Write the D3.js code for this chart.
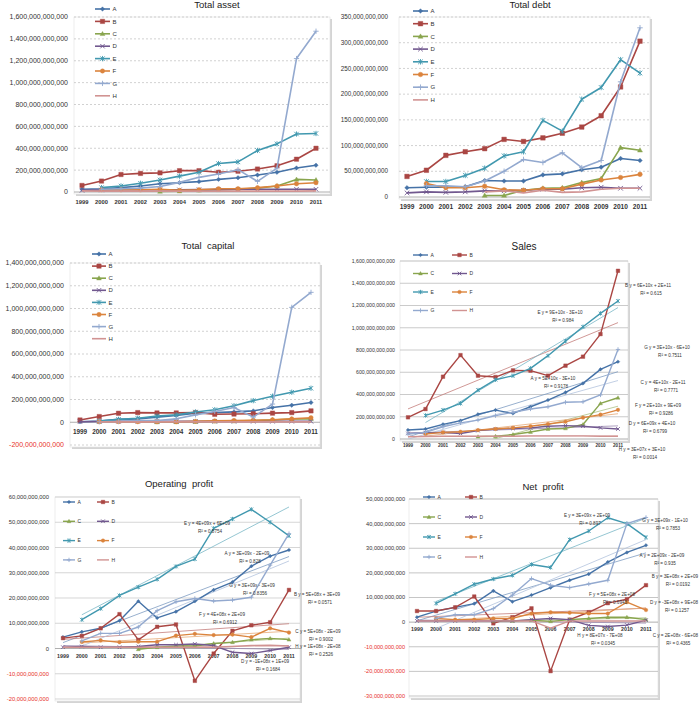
<!DOCTYPE html>
<html><head><meta charset="utf-8">
<script src="https://cdn.jsdelivr.net/npm/d3@7"></script>
<style>
body{margin:0;background:#fff}
svg{font-family:"Liberation Sans",Arial,sans-serif}
</style></head><body>
<svg width="699" height="706"></svg>
<script>
const YEARS = ['1999','2000','2001','2002','2003','2004','2005','2006','2007','2008','2009','2010','2011'];
const SERIES = ['A','B','C','D','E','F','G','H'];
const COLORS = ['#4572A7','#AA4643','#89A54E','#71588F','#4198AF','#DB843D','#93A9CF','#D19392'];
const MARKERS = ['diamond','square','triangle','x','star','circle','plus','none'];

// values in billions
const TOTAL_ASSET = {
  A: [25,30,40,55,75,85,95,115,130,155,180,220,245],
  B: [60,100,160,170,175,195,195,180,190,210,240,300,400],
  C: [null,null,null,null,5,8,15,20,25,35,55,115,110],
  D: [15,18,20,20,20,20,22,22,25,25,25,25,25],
  E: [null,40,55,80,110,145,180,260,275,380,440,530,535],
  F: [null,20,20,20,25,15,20,30,30,40,55,75,85],
  G: [null,25,30,35,50,88,134,164,204,97,219,1220,1470],
  H: [10,8,8,8,8,8,8,8,8,8,8,8,10]
};
const TOTAL_DEBT = {
  A: [18,19,19,20,32,31,31,43,45,53,58,75,71],
  B: [40,52,81,88,94,112,108,115,124,136,158,214,303],
  C: [null,null,null,null,3,3,13,17,18,28,36,96,91],
  D: [8,10,9,10,12,12,13,15,15,18,19,17,17],
  E: [null,30,30,42,56,80,88,149,128,190,213,267,241],
  F: [null,26,18,18,21,14,13,16,16,25,33,38,44],
  G: [null,22,22,20,31,50,73,67,86,57,71,224,329],
  H: [null,null,null,null,10,12,8,13,9,10,15,17,17]
};
const TOTAL_CAPITAL = {
  A: [5,10,25,30,45,60,80,85,91,100,129,150,173],
  B: [20,50,79,85,82,82,85,70,72,75,80,85,100],
  C: [null,null,null,null,2,3,5,8,10,15,20,28,30],
  D: [5,6,8,8,8,8,8,8,8,8,8,8,8],
  E: [null,10,25,35,55,65,90,110,145,190,229,264,299],
  F: [null,5,5,5,5,5,8,12,15,18,22,30,40],
  G: [null,5,8,15,15,30,65,95,130,45,160,1010,1142],
  H: [null,3,3,3,3,3,3,3,3,3,3,3,3]
};
const SALES = {
  A: [81,90,132,165,222,260,230,290,350,419,500,626,695],
  B: [195,269,560,754,569,557,617,614,569,659,740,943,1512],
  C: [null,null,null,null,21,25,40,63,90,95,130,320,371],
  D: [50,55,60,50,75,90,95,100,115,120,115,100,90],
  E: [null,212,260,320,440,533,569,635,749,880,1009,1129,1240],
  F: [null,45,60,65,80,90,100,115,135,155,192,219,262],
  G: [45,60,110,145,170,210,240,270,290,330,335,396,805],
  H: [20,22,25,25,25,25,25,28,28,28,28,25,25]
};
const OPERATING_PROFIT = {
  A: [4.5,6.6,8,11,18.7,12.1,14.6,18.7,23.2,26.3,32.6,36.6,39],
  B: [4.1,5,8,13.6,3.4,8.6,9.5,-12.8,-2,7,9.2,10.4,23.2],
  C: [null,null,null,null,-0.3,0.5,1,1,2,2.5,3.5,4,3.5],
  D: [0.5,0.8,0.5,0.5,0.8,1.5,1.5,1.8,1.2,-1.5,-2,-0.8,0.5],
  E: [null,11.4,15.8,21,24.3,27.4,32.5,35.4,47.6,51.3,55.1,50,44.6],
  F: [null,2.6,3.2,2.5,2.7,2.7,5.1,5.8,5.3,5.5,4.5,8,6.3],
  G: [null,3,6,6,8.5,15,18.5,19.8,18.8,19.2,20.3,33,45.5],
  H: [0.5,0.5,0.5,0.5,0.5,0.5,0.5,0.5,0.5,0.8,1.2,1.3,1.0]
};
const NET_PROFIT = {
  A: [2,4.5,6,7.5,12.7,8.3,11,14,17,19.5,24.4,28.3,31.2],
  B: [4.5,4.5,6,10.4,-0.5,2,5.6,-19.9,1,4,7.7,9.3,15],
  C: [null,null,null,null,0.5,0.5,0.8,0.3,1,1.5,2,2,1],
  D: [0.5,0.5,0.5,0.5,0.5,0.5,1,1.5,1,-1.3,-1.8,-1.2,0.8],
  E: [null,7.6,11.5,15.4,17.5,19,23.4,22.2,33.5,37,42.4,40,34.4],
  F: [null,1.5,1,1,1.5,1.5,3.5,4,3.8,3.5,3.5,8.1,4.9],
  G: [null,1.5,3,3,5.5,11,17.7,15,14,15.5,17,40,42.5],
  H: [0.5,0.5,0.5,0.5,0.5,0.5,0.5,-2.4,0.5,0.5,0.5,0.5,0.5]
};

const SALES_TRENDS = [
  ['B y = 6E+10x + 2E+11','R² = 0.615'],
  ['E y = 9E+10x - 3E+10','R² = 0.984'],
  ['G y = 3E+10x - 6E+10','R² = 0.7511'],
  ['A  y = 5E+10x - 3E+10','R² = 0.9178'],
  ['C y = 4E+10x - 2E+11','R² = 0.7771'],
  ['F y = 2E+10x + 9E+09','R² = 0.9286'],
  ['D y = 6E+09x + 4E+10','R² = 0.6799'],
  ['H  y = 3E+07x + 3E+10','R² = 0.0014']
];
const OPERATING_TRENDS = [
  ['E y = 4E+09x + 6E+09','R² = 0.8754'],
  ['A y = 3E+09x - 2E+09','R² = 0.828'],
  ['G y = 3E+09x - 3E+09','R² = 0.8356'],
  ['B y = 5E+08x + 3E+09','R² = 0.0571'],
  ['F y = 4E+08x + 2E+09','R² = 0.6912'],
  ['C y = 5E+08x - 2E+09','R² = 0.9002'],
  ['H y = 1E+08x - 2E+08','R² = 0.2526'],
  ['D y = -1E+08x + 1E+09','R² = 0.1684']
];
const NET_TRENDS = [
  ['E y = 3E+09x + 2E+09','R² = 0.897'],
  ['G y = 3E+09x - 1E+10','R² = 0.7853'],
  ['A y = 2E+09x - 2E+09','R² = 0.935'],
  ['B y = 3E+08x + 2E+09','R² = 0.0192'],
  ['F y = 5E+08x + 2E+08','R² = 0.6943'],
  ['D y = -3E+08x + 9E+08','R² = 0.1257'],
  ['H y = 8E+07x - 7E+08','R² = 0.0345'],
  ['C y = 2E+08x - 6E+08','R² = 0.4365']
];

const PANELS = [
  { title:'Total asset', data:TOTAL_ASSET, ticks:[0,1600,200],
    x0:82, x1:316, yBot:192, yTop:17, plotL:74, plotR:330, labelX:68, yFont:7,
    xLabelY:204, xFont:5.8, titleX:217, titleY:7.5, titleFont:9.5, dash:'2,2', grid:'#bdbdbd', lw:1.6, mr:2.2,
    legend:{x:95, w:15, colGap:0, cols:1, y0:9, dy:12.4, font:6} },
  { title:'Total debt', data:TOTAL_DEBT, ticks:[0,350,50],
    x0:407, x1:640, yBot:197, yTop:17, plotL:399, plotR:650, labelX:388, yFont:6.3,
    xLabelY:209, xFont:6.6, titleX:530, titleY:7.5, titleFont:9.5, dash:'2,2', grid:'#bdbdbd', lw:1.6, mr:2.3,
    legend:{x:413, w:15, colGap:0, cols:1, y0:11, dy:12.7, font:6} },
  { title:'Total  capital', data:TOTAL_CAPITAL, ticks:[-200,1400,200],
    x0:80, x1:311, yBot:445, yTop:263, plotL:70, plotR:320, labelX:64, yFont:7,
    xLabelY:433.5, xFont:6.4, titleX:208, titleY:249, titleFont:9.5, dash:'2,2', grid:'#bdbdbd', lw:1.6, mr:2.2,
    legend:{x:92, w:14, colGap:0, cols:1, y0:254, dy:12.1, font:6} },
  { title:'Sales', data:SALES, ticks:[0,1600,200], trends:SALES_TRENDS,
    trendPos:[[648,287],[560,314],[667,349],[553,380],[663,384],[658,407],[652,425],[642,451]],
    x0:408, x1:618, yBot:439, yTop:261, plotL:400, plotR:628, labelX:395, yFont:5.2,
    xLabelY:447, xFont:4.6, titleX:524, titleY:250, titleFont:10, dash:null, grid:'#b4b4b4', lw:1.4, mr:1.8,
    legend:{x:413, w:15, colGap:24, cols:2, y0:255, dy:18.5, font:5} },
  { title:'Operating  profit', data:OPERATING_PROFIT, ticks:[-20,60,10], trends:OPERATING_TRENDS,
    trendPos:[[207,525],[247,555],[252,587],[317,596],[222,616],[318,633],[318,648],[265,663]],
    x0:63, x1:289, yBot:699, yTop:497, plotL:55, plotR:300, labelX:49, yFont:5.8,
    xLabelY:658, xFont:5.3, titleX:179, titleY:487, titleFont:9.5, dash:null, grid:'#c4c4c4', lw:1.4, mr:1.8,
    legend:{x:63, w:12, colGap:22, cols:2, y0:502, dy:19.3, font:5} },
  { title:'Net  profit', data:NET_PROFIT, ticks:[-30,50,10], trends:NET_TRENDS,
    trendPos:[[587,517],[665,522],[662,557],[675,578],[612,596],[680,604],[600,637],[683,637]],
    x0:417, x1:646, yBot:696, yTop:499, plotL:409, plotR:658, labelX:405, yFont:5.6,
    xLabelY:631, xFont:5.3, titleX:543, titleY:490, titleFont:9.5, dash:null, grid:'#adadad', lw:1.4, mr:1.8,
    legend:{x:423, w:12, colGap:30, cols:2, y0:497, dy:20, font:5} }
];

const svg = d3.select('svg');
const fmt = v => d3.format(',.0f')(v * 1e9).replace('−', '-');

function markerPath(type, r) {
  switch (type) {
    case 'diamond': return `M0,${-r}L${r},0L0,${r}L${-r},0Z`;
    case 'square': return `M${-r},${-r}h${2*r}v${2*r}h${-2*r}Z`;
    case 'triangle': return `M0,${-r*1.1}L${r*1.1},${r*0.8}L${-r*1.1},${r*0.8}Z`;
    case 'circle': return d3.symbol(d3.symbolCircle, Math.PI * r * r)();
    case 'x': return `M${-r},${-r}L${r},${r}M${-r},${r}L${r},${-r}`;
    case 'star': return `M${-r},${-r}L${r},${r}M${-r},${r}L${r},${-r}M0,${-r*1.2}V${r*1.2}`;
    case 'plus': return `M${-r*1.2},0H${r*1.2}M0,${-r*1.2}V${r*1.2}`;
  }
  return '';
}
const filled = t => ['diamond','square','triangle','circle'].includes(t);

function regression(vals) {
  const pts = vals.map((v, i) => [i, v]).filter(d => d[1] != null);
  const mx = d3.mean(pts, d => d[0]), my = d3.mean(pts, d => d[1]);
  const sxy = d3.sum(pts, d => (d[0] - mx) * (d[1] - my));
  const sxx = d3.sum(pts, d => (d[0] - mx) ** 2);
  const b = sxy / sxx;
  return { f: i => my + b * (i - mx), first: pts[0][0] };
}

function drawPanel(p, idx) {
  const g = svg.append('g');
  const x = d3.scalePoint().domain(YEARS).range([p.x0, p.x1]);
  const y = d3.scaleLinear().domain([p.ticks[0], p.ticks[1]]).range([p.yBot, p.yTop]);
  const tickVals = d3.range(p.ticks[0], p.ticks[1] + p.ticks[2] / 2, p.ticks[2]);
  const top = y(p.ticks[1]), bot = y(p.ticks[0]);

  g.append('clipPath').attr('id', 'clip' + idx).append('rect')
    .attr('x', p.plotL).attr('y', top).attr('width', p.plotR - p.plotL).attr('height', bot - top);

  // plot area with shadow
  g.append('rect').attr('x', p.plotL + 2).attr('y', top + 2)
    .attr('width', p.plotR - p.plotL).attr('height', bot - top + 2).attr('fill', '#d4d4d4');
  g.append('rect').attr('x', p.plotL).attr('y', top)
    .attr('width', p.plotR - p.plotL).attr('height', bot - top + 2)
    .attr('fill', '#fff').attr('stroke', '#e2e2e2').attr('stroke-width', 0.6);

  g.selectAll('.grid').data(tickVals).join('line')
    .attr('x1', p.plotL).attr('x2', p.plotR)
    .attr('y1', d => y(d)).attr('y2', d => y(d))
    .attr('stroke', d => d === 0 ? '#9a9a9a' : p.grid)
    .attr('stroke-width', d => d === 0 ? 0.8 : 0.7)
    .attr('stroke-dasharray', d => d === 0 ? null : p.dash);

  g.selectAll('.ylab').data(tickVals).join('text')
    .attr('x', p.labelX).attr('y', d => y(d) + p.yFont * 0.35)
    .attr('text-anchor', 'end').attr('font-size', p.yFont)
    .attr('fill', d => d < 0 ? '#e8312a' : '#333')
    .text(fmt);

  g.selectAll('.xlab').data(YEARS).join('text')
    .attr('x', d => x(d)).attr('y', p.xLabelY)
    .attr('text-anchor', 'middle').attr('font-size', p.xFont)
    .attr('font-weight', 'bold').attr('fill', '#333')
    .text(d => d);

  // trend lines
  if (p.trends) {
    const tg = g.append('g').attr('clip-path', `url(#clip${idx})`);
    SERIES.forEach((s, i) => {
      const r = regression(p.data[s]);
      tg.append('line')
        .attr('x1', x(YEARS[r.first])).attr('y1', y(r.f(r.first)))
        .attr('x2', x(YEARS[12])).attr('y2', y(r.f(12)))
        .attr('stroke', d3.interpolateRgb(COLORS[i], '#fff')(0.3))
        .attr('stroke-width', 0.8);
    });
  }

  const line = d3.line().defined(d => d.v != null).x(d => x(d.year)).y(d => y(d.v));
  SERIES.forEach((s, i) => {
    const pts = p.data[s].map((v, j) => ({ year: YEARS[j], v }));
    g.append('path').datum(pts).attr('d', line)
      .attr('fill', 'none').attr('stroke', COLORS[i]).attr('stroke-width', p.lw)
      .attr('stroke-linejoin', 'round');
    if (MARKERS[i] !== 'none') {
      g.selectAll(null).data(pts.filter(d => d.v != null)).join('path')
        .attr('transform', d => `translate(${x(d.year)},${y(d.v)})`)
        .attr('d', markerPath(MARKERS[i], p.mr))
        .attr('fill', filled(MARKERS[i]) ? COLORS[i] : 'none')
        .attr('stroke', COLORS[i]).attr('stroke-width', filled(MARKERS[i]) ? 0.4 : 0.9);
    }
  });

  // trend labels, kept inside the page width
  if (p.trends) {
    p.trends.forEach((t, k) => {
      let [tx, ty] = p.trendPos[k];
      const t1 = g.append('text').attr('y', ty).attr('text-anchor', 'middle')
        .attr('font-size', 4.6).attr('fill', '#333').text(t[0]);
      const half = t1.node().getComputedTextLength() / 2;
      tx = Math.min(tx, 698 - half);
      t1.attr('x', tx);
      g.append('text').attr('x', tx + 3).attr('y', ty + 7.5).attr('text-anchor', 'middle')
        .attr('font-size', 4.6).attr('fill', '#333').text(t[1]);
    });
  }

  // legend
  const L = p.legend;
  SERIES.forEach((s, i) => {
    const col = i % L.cols, row = Math.floor(i / L.cols);
    const lx = L.x + col * (L.w + L.colGap), ly = L.y0 + row * L.dy;
    g.append('line').attr('x1', lx).attr('x2', lx + L.w).attr('y1', ly).attr('y2', ly)
      .attr('stroke', COLORS[i]).attr('stroke-width', p.lw);
    if (MARKERS[i] !== 'none') {
      g.append('path').attr('transform', `translate(${lx + L.w / 2},${ly})`)
        .attr('d', markerPath(MARKERS[i], p.mr))
        .attr('fill', filled(MARKERS[i]) ? COLORS[i] : 'none')
        .attr('stroke', COLORS[i]).attr('stroke-width', filled(MARKERS[i]) ? 0.4 : 0.9);
    }
    g.append('text').attr('x', lx + L.w + 2.5).attr('y', ly + L.font * 0.35)
      .attr('font-size', L.font).attr('fill', '#333').text(s);
  });

  g.append('text').attr('x', p.titleX).attr('y', p.titleY)
    .attr('text-anchor', 'middle').attr('font-size', p.titleFont)
    .attr('fill', '#222').style('white-space', 'pre')
    .text(p.title);
}

PANELS.forEach(drawPanel);
</script>
</body></html>
